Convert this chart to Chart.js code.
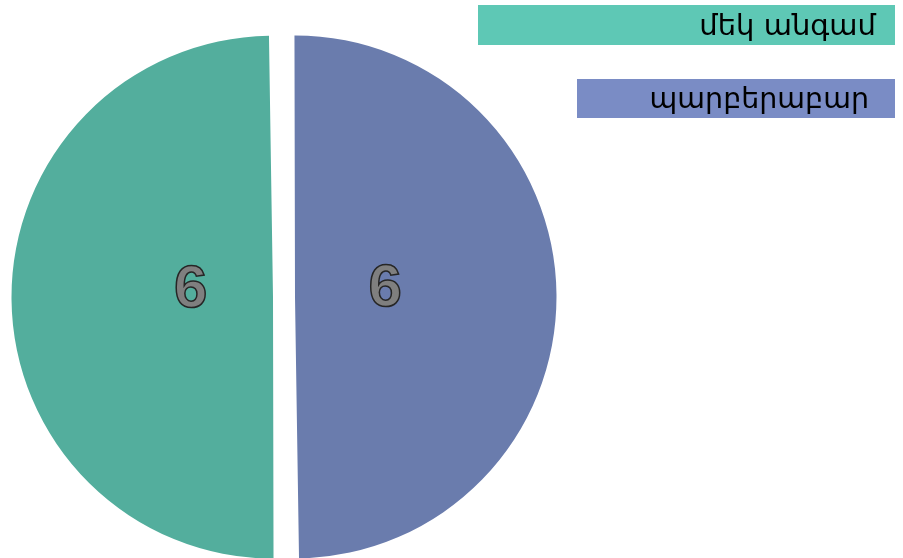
<!DOCTYPE html>
<html>
<head>
<meta charset="utf-8">
<script src="https://cdn.jsdelivr.net/npm/chart.js@4.4.1/dist/chart.umd.min.js"></script>
<style>
  html, body { margin: 0; padding: 0; background: #fff; overflow: hidden; }
  #wrap { width: 903px; height: 558px; position: relative; }
</style>
</head>
<body>
<div id="wrap"><canvas id="pie"></canvas></div>
<script>
//----- Data -----//

const categories = ['մեկ անգամ', 'պարբերաբար']
const values = [6, 6]
const sliceColors = ['#53ae9d', '#6a7cad']
const legendColors = ['#5ec8b5', '#7a8cc5']

//----- Plugins -----//

// numbers drawn inside the slices
// (arc offset in chart.js is applied as offset / 4, both as shift and extra radius)
const sliceLabels = {
  id: 'sliceLabels',
  afterDatasetsDraw(chart) {
    const ctx = chart.ctx
    const meta = chart.getDatasetMeta(0)
    const shift = chart.data.datasets[0].offset / 4
    ctx.save()
    ctx.font = 'bold 60px "Liberation Sans"'
    ctx.textAlign = 'center'
    ctx.textBaseline = 'middle'
    ctx.lineWidth = 1.5
    ctx.strokeStyle = '#262626'
    ctx.fillStyle = '#7f7f7f'
    meta.data.forEach((arc, i) => {
      const mid = (arc.startAngle + arc.endAngle) / 2
      const r = (arc.outerRadius + shift) * 0.33 + shift
      const x = arc.x + Math.cos(mid) * r + 4
      const y = arc.y + Math.sin(mid) * r - 7
      const txt = String(values[i])
      ctx.fillText(txt, x, y)
      ctx.strokeText(txt, x, y)
    })
    ctx.restore()
  }
}

// coloured legend boxes in the top right corner
const boxLegend = {
  id: 'boxLegend',
  afterDraw(chart) {
    const ctx = chart.ctx
    const boxes = [
      { x: 478, y: 5, w: 417, h: 40, tx: 876, fs: 29 },
      { x: 577, y: 79, w: 318, h: 39, tx: 869, fs: 28.5 }
    ]
    ctx.save()
    ctx.textAlign = 'right'
    ctx.textBaseline = 'middle'
    categories.forEach((c, i) => {
      const b = boxes[i]
      ctx.fillStyle = legendColors[i]
      ctx.fillRect(b.x, b.y, b.w, b.h)
      ctx.font = b.fs + 'px "DejaVu Sans"'
      ctx.fillStyle = '#000'
      ctx.fillText(c, b.tx, b.y + b.h / 2 + 2)
    })
    ctx.restore()
  }
}

//----- Chart -----//

new Chart(document.getElementById('pie'), {
  type: 'pie',
  data: {
    labels: categories,
    datasets: [{
      data: values,
      backgroundColor: sliceColors,
      borderWidth: 0,
      offset: 44
    }]
  },
  options: {
    responsive: true,
    maintainAspectRatio: false,
    animation: false,
    rotation: 179.5,
    radius: 250.5,
    layout: { padding: { left: 0, right: 335, top: 36, bottom: 0 } },
    plugins: {
      legend: { display: false },
      tooltip: { enabled: false }
    }
  },
  plugins: [sliceLabels, boxLegend]
})
</script>
</body>
</html>
